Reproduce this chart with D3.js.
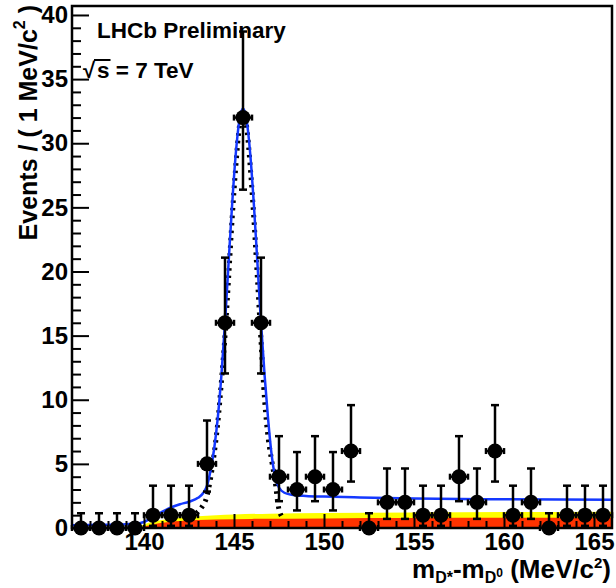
<!DOCTYPE html>
<html>
<head>
<meta charset="utf-8">
<script src="https://cdn.jsdelivr.net/npm/d3@7"></script>
<style>
  html, body { margin: 0; padding: 0; background: #ffffff; }
  svg text { font-family: Helvetica, Arial, "Liberation Sans", sans-serif; font-weight: bold; }
</style>
</head>
<body>
<svg id="chart" width="616" height="588"></svg>
<script>
// bins of 1 MeV/c2, centres
const binCenters = [136.5, 137.5, 138.5, 139.5, 140.5, 141.5, 142.5, 143.5, 144.5, 145.5,
  146.5, 147.5, 148.5, 149.5, 150.5, 151.5, 152.5, 153.5, 154.5, 155.5,
  156.5, 157.5, 158.5, 159.5, 160.5, 161.5, 162.5, 163.5, 164.5, 165.5];
const counts = [0, 0, 0, 0, 1, 1, 1, 5, 16, 32,
  16, 4, 3, 4, 3, 6, 0, 2, 2, 1,
  1, 4, 2, 6, 1, 2, 0, 1, 1, 1];
// asymmetric (Poisson) error bars
const errLow = [0, 0, 0, 0, 0.83, 0.83, 0.83, 2.16, 3.95, 5.62,
  3.95, 1.91, 1.63, 1.91, 1.63, 2.38, 0, 1.29, 1.29, 0.83,
  0.83, 1.91, 1.29, 2.38, 0.83, 1.29, 0, 0.83, 0.83, 0.83];
const errHigh = [1.15, 1.15, 1.15, 1.15, 2.30, 2.30, 2.30, 3.38, 5.08, 6.71,
  5.08, 3.16, 2.92, 3.16, 2.92, 3.58, 1.15, 2.64, 2.64, 2.30,
  2.30, 3.16, 2.64, 3.58, 2.30, 2.64, 1.15, 2.30, 2.30, 2.30];

// total fit (blue solid)
const totalFit = [[136, 0.22], [137, 0.24], [138, 0.26], [139, 0.3], [139.6, 0.34], [140, 0.47],
  [140.5, 0.85], [141, 1.25], [141.5, 1.6], [142, 1.85], [142.5, 2.05], [143, 2.35], [143.3, 2.75],
  [143.5, 3.3], [143.7, 4.5], [143.9, 6.2], [144.1, 8.6], [144.3, 11.9], [144.5, 16], [144.7, 20.7],
  [144.9, 25.3], [145.1, 29.2], [145.3, 31.8], [145.5, 32.7], [145.7, 31.8], [145.9, 29.2],
  [146.1, 25.3], [146.3, 20.7], [146.5, 16], [146.7, 11.9], [146.9, 8.4], [147.1, 5.6], [147.3, 3.9],
  [147.5, 3.15], [147.8, 2.75], [148.2, 2.6], [149, 2.5], [150, 2.45], [152, 2.38], [155, 2.3],
  [160, 2.24], [166, 2.2]];
// signal component (black dotted)
const signalFit = [[142.9, 1.15], [143.2, 1.6], [143.5, 2.5], [143.7, 3.9], [143.9, 5.8], [144.1, 8.2],
  [144.3, 11.4], [144.5, 15.0], [144.7, 19.5], [144.9, 24.2], [145.1, 28.2], [145.3, 31.3], [145.5, 32.4],
  [145.7, 31.3], [145.9, 28.2], [146.1, 24.2], [146.3, 19.5], [146.5, 14.6], [146.7, 10.0], [146.9, 7.0],
  [147.1, 5.2], [147.3, 3.5], [147.45, 1.8], [147.65, 0.9]];
// stacked background components
const bkgTotal = [[139.57, 0], [140, 0.28], [140.5, 0.48], [141, 0.62], [141.5, 0.72], [142, 0.8],
  [143, 0.92], [144, 1.0], [145, 1.06], [147, 1.12], [150, 1.17], [155, 1.21], [160, 1.24], [166, 1.27]];
const bkgComb = [[139.57, 0], [140, 0.12], [140.5, 0.28], [141, 0.4], [141.5, 0.48], [142, 0.54],
  [143, 0.62], [144, 0.67], [146, 0.71], [150, 0.75], [155, 0.77], [160, 0.79], [166, 0.8]];

const xMajorTicks = [140, 145, 150, 155, 160, 165];
const yMajorTicks = [0, 5, 10, 15, 20, 25, 30, 35, 40];

function drawChart() {
  const frame = { left: 72, right: 612, top: 6, bottom: 528 };
  const black = "#000000";
  const blue = "#1438ff";

  const svg = d3.select("#chart");
  svg.selectAll("*").remove();
  svg.append("rect").attr("width", 616).attr("height", 588).attr("fill", "#ffffff");

  const x = d3.scaleLinear().domain([136, 166]).range([frame.left, frame.right]);
  const y = d3.scaleLinear().domain([0, 40.7]).range([frame.bottom, frame.top]);

  // background bands
  const area = d3.area()
    .x(function(d) { return x(d[0]); })
    .y0(y(0))
    .y1(function(d) { return y(d[1]); })
    .curve(d3.curveMonotoneX);

  svg.append("path").datum(bkgTotal).attr("d", area).attr("fill", "#ffff00");
  svg.append("path").datum(bkgComb).attr("d", area).attr("fill", "#ff3300");

  const line = d3.line()
    .x(function(d) { return x(d[0]); })
    .y(function(d) { return y(d[1]); })
    .curve(d3.curveMonotoneX);

  svg.append("path")
    .datum(signalFit)
    .attr("d", line)
    .attr("fill", "none")
    .attr("stroke", black)
    .attr("stroke-width", 5)
    .attr("stroke-dasharray", "2.5 5");

  svg.append("path")
    .datum(totalFit)
    .attr("d", line)
    .attr("fill", "none")
    .attr("stroke", blue)
    .attr("stroke-width", 2.5);

  // axes (ticks inward)
  const xMinor = d3.range(137, 166, 1).filter(function(v) { return xMajorTicks.indexOf(v) < 0; });
  const yMinor = d3.range(1, 41, 1).filter(function(v) { return yMajorTicks.indexOf(v) < 0; });

  const gx = svg.append("g").attr("transform", "translate(0," + frame.bottom + ")");
  gx.call(d3.axisBottom(x).tickValues(xMajorTicks).tickSize(-14).tickPadding(5).tickFormat(d3.format("d")));
  gx.append("g").call(d3.axisBottom(x).tickValues(xMinor).tickSize(-7).tickFormat(""));

  const gy = svg.append("g").attr("transform", "translate(" + frame.left + ",0)");
  gy.call(d3.axisLeft(y).tickValues(yMajorTicks).tickSize(-17).tickPadding(4).tickFormat(d3.format("d")));
  gy.append("g").call(d3.axisLeft(y).tickValues(yMinor).tickSize(-9).tickFormat(""));

  svg.selectAll(".domain").remove();
  svg.selectAll(".tick line").attr("stroke", black).attr("stroke-width", 2);
  svg.selectAll(".tick text")
    .attr("fill", black)
    .attr("font-size", 24)
    .attr("font-family", "Helvetica, Arial, 'Liberation Sans', sans-serif")
    .attr("font-weight", "bold");

  // frame
  svg.append("rect")
    .attr("x", frame.left)
    .attr("y", frame.top)
    .attr("width", frame.right - frame.left)
    .attr("height", frame.bottom - frame.top)
    .attr("fill", "none")
    .attr("stroke", black)
    .attr("stroke-width", 2.5);

  // data points with error bars
  const pts = binCenters.map(function(c, i) {
    return { c: c, n: counts[i], lo: errLow[i], hi: errHigh[i] };
  });
  const g = svg.append("g").attr("stroke", black).attr("stroke-width", 2.5);
  const cap = 4;
  pts.forEach(function(d) {
    const cx = x(d.c);
    const cy = y(d.n);
    const yTop = y(d.n + d.hi);
    const yBot = y(d.n - d.lo);
    g.append("line").attr("x1", cx).attr("x2", cx).attr("y1", yTop).attr("y2", yBot);
    g.append("line").attr("x1", cx - cap).attr("x2", cx + cap).attr("y1", yTop).attr("y2", yTop);
    if (d.lo > 0) {
      g.append("line").attr("x1", cx - cap).attr("x2", cx + cap).attr("y1", yBot).attr("y2", yBot);
    }
    const xl = x(d.c - 0.5);
    const xr = x(d.c + 0.5);
    g.append("line").attr("x1", xl).attr("x2", xr).attr("y1", cy).attr("y2", cy);
    g.append("line").attr("x1", xl).attr("x2", xl).attr("y1", cy - 3).attr("y2", cy + 3);
    g.append("line").attr("x1", xr).attr("x2", xr).attr("y1", cy - 3).attr("y2", cy + 3);
  });
  svg.append("g")
    .selectAll("circle")
    .data(pts)
    .join("circle")
    .attr("cx", function(d) { return x(d.c); })
    .attr("cy", function(d) { return y(d.n); })
    .attr("r", 7.5)
    .attr("fill", black);

  // labels
  svg.append("text")
    .attr("x", 97)
    .attr("y", 38)
    .attr("font-size", 22.5)
    .attr("fill", black)
    .text("LHCb Preliminary");

  svg.append("text")
    .attr("x", 83)
    .attr("y", 78)
    .attr("font-size", 22)
    .attr("fill", black)
    .text("\u221A");
  const energy = svg.append("text")
    .attr("x", 97)
    .attr("y", 78)
    .attr("font-size", 22.5)
    .attr("fill", black)
    .text("s = 7 TeV");
  const sWidth = energy.node().getSubStringLength(0, 1);
  svg.append("line")
    .attr("x1", 94)
    .attr("x2", 97 + sWidth + 1)
    .attr("y1", 60)
    .attr("y2", 60)
    .attr("stroke", black)
    .attr("stroke-width", 2);

  // x title
  const xt = svg.append("text")
    .attr("x", 611)
    .attr("y", 578)
    .attr("text-anchor", "end")
    .attr("font-size", 26)
    .attr("fill", black);
  xt.append("tspan").text("m");
  xt.append("tspan").attr("font-size", 16).attr("dy", 5).text("D*");
  xt.append("tspan").attr("dy", -5).text("-m");
  xt.append("tspan").attr("font-size", 16).attr("dy", 5).text("D");
  xt.append("tspan").attr("font-size", 12).attr("dy", -6).text("0");
  xt.append("tspan").attr("dy", 1).text(" (MeV/c");
  xt.append("tspan").attr("font-size", 15).attr("dy", -10).text("2");
  xt.append("tspan").attr("dy", 10).text(")");

  // y title
  const yt = svg.append("text")
    .attr("transform", "translate(37,5) rotate(-90)")
    .attr("text-anchor", "end")
    .attr("font-size", 25)
    .attr("fill", black);
  yt.append("tspan").text("Events / ( 1 MeV/c");
  yt.append("tspan").attr("font-size", 16).attr("dy", -12).text("2");
  yt.append("tspan").attr("dy", 12).text(" )");
}

drawChart();
</script>
</body>
</html>
